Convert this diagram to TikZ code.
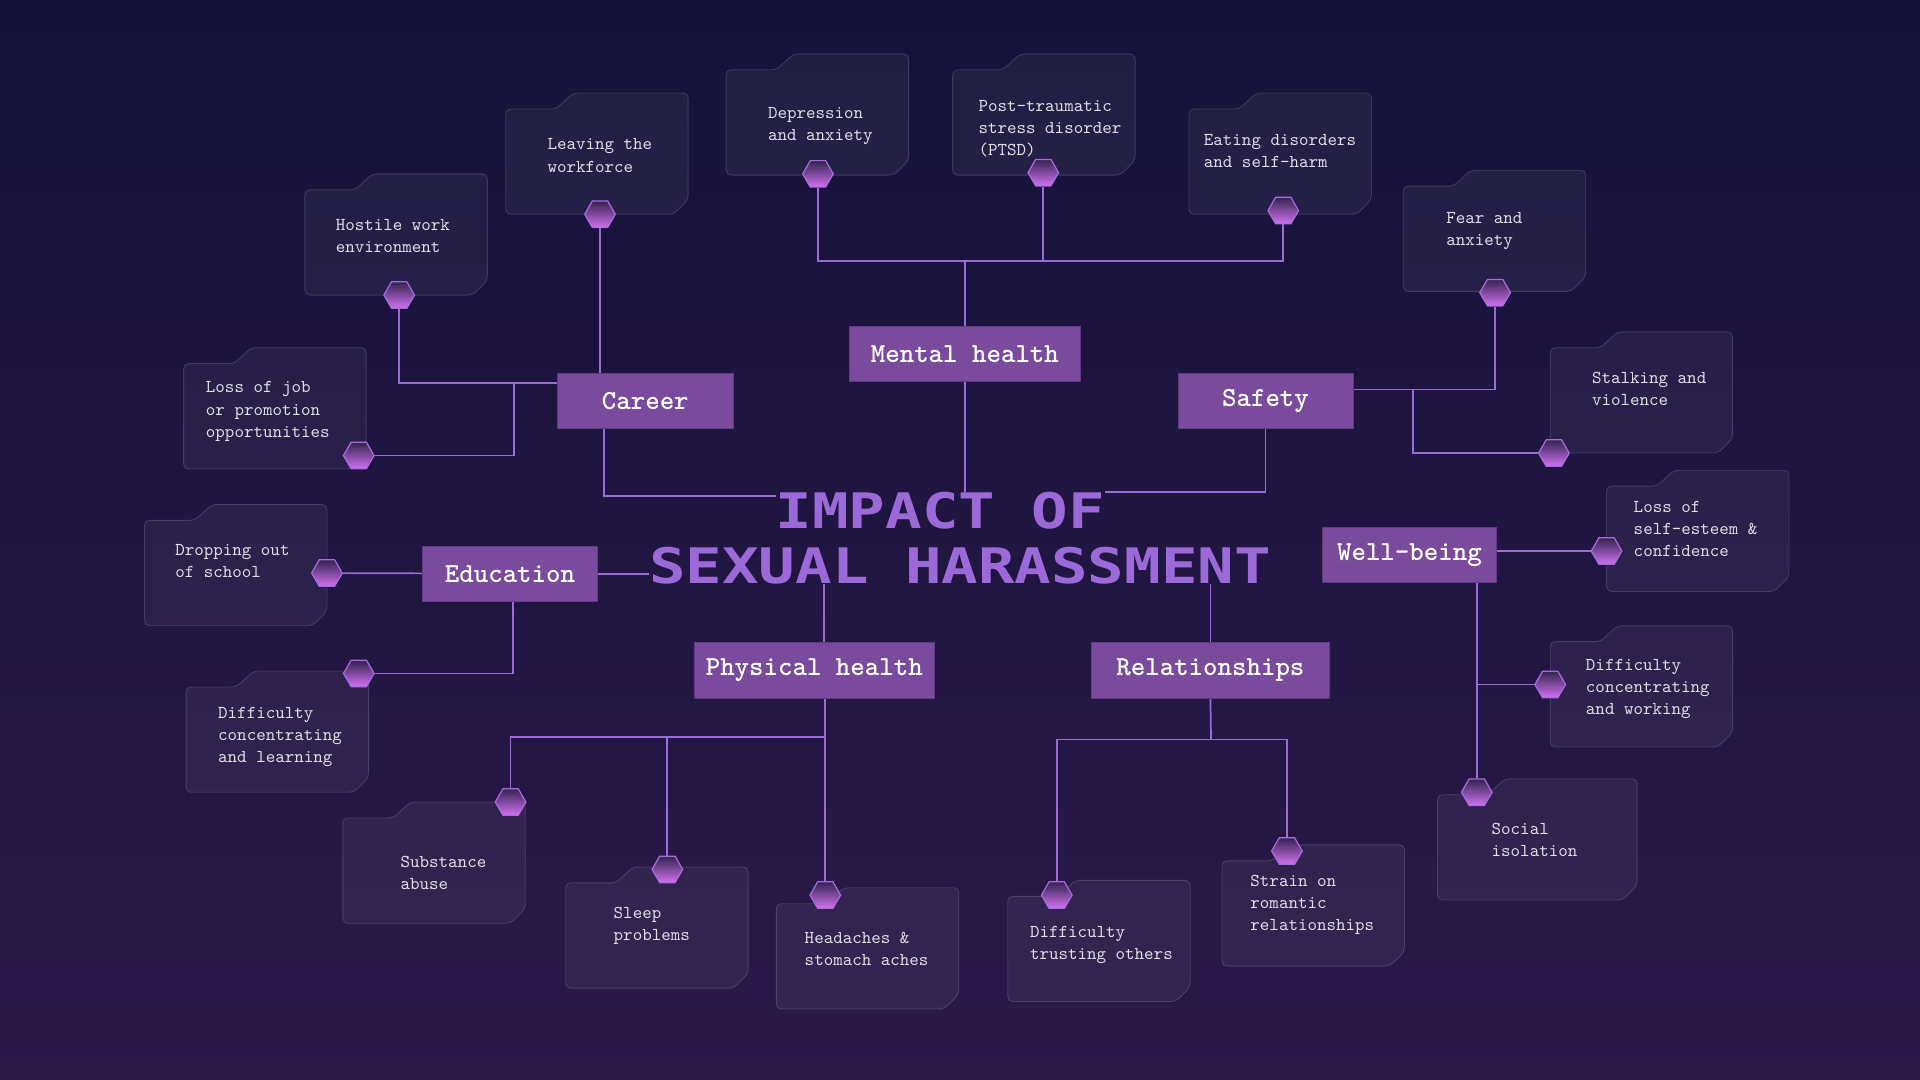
\documentclass[tikz,border=0pt]{standalone}
\usepackage{fontspec}
\newfontfamily\cardfam{lmmono10-regular.otf}
\newfontfamily\catfam{lmmonolt10-bold.otf}
\newfontfamily\titlefam{DejaVu Sans Mono}
\usetikzlibrary{shapes.geometric,positioning}
\usepackage{xcolor}
\definecolor{bgtop}{HTML}{15123A}
\definecolor{bgmid}{HTML}{140E29}
\definecolor{bgbot}{HTML}{2B1948}
\definecolor{boxpurple}{HTML}{7A4B9C}
\definecolor{boxedge}{HTML}{5E3A82}
\definecolor{linkpurple}{HTML}{9A6CD6}
\definecolor{titlepurple}{HTML}{9C6AD8}
\definecolor{cardink}{HTML}{E2DEEA}
\definecolor{hexdark}{HTML}{33244F}
\definecolor{hexlight}{HTML}{D272F0}
\definecolor{hexedge}{HTML}{A86AE0}
\pgfdeclarelayer{back}
\pgfdeclarelayer{cards}
\pgfdeclarelayer{lines}
\pgfsetlayers{back,cards,lines,main}
\newcommand{\card}[7][149] {
    \begin{pgfonlayer}{cards}
    \draw[cardbox,shift={(#3,#4)}] (0,13) -- (41,13) -- (55,0) -- (#1,0)
        -- (#1,87) -- (#1-12,99) -- (0,99) -- cycle;
    \end{pgfonlayer}
    \node[cardtext] (#2) at (#5,#6) {#7};
}
\newcommand{\hexdot}[3] {
    \node[hexdot] (#1) at (#2,#3) {};
}

\begin{document}
\begin{tikzpicture}[x=1pt,y=-1pt]
    \tikzset{
        cardbox/.style={rounded corners=4pt,fill=white,fill opacity=0.05,
            draw=white,draw opacity=0.15,line width=0.7pt},
        cardtext/.style={anchor=west,align=left,inner sep=0pt,text=cardink,
            font=\fontsize{14.8}{18}\selectfont\cardfam},
        catbox/.style={fill=boxpurple,draw=boxedge,line width=0.6pt,text=white,
            minimum height=45pt,inner sep=0pt,
            font=\fontsize{22.5}{24}\selectfont\catfam},
        hexdot/.style={regular polygon,regular polygon sides=6,minimum size=25pt,
            inner sep=0pt,draw=hexedge,line width=1pt,
            top color=hexdark,bottom color=hexlight},
        link/.style={draw=linkpurple,line width=1.4pt},
        headline/.style={inner sep=0pt,text=titlepurple,xscale=1.24,transform shape,
            font=\fontsize{40}{44}\selectfont\titlefam\bfseries}
    }
    \useasboundingbox (0,0) rectangle (1568,882);
    \begin{pgfonlayer}{back}
        \shade[top color=bgtop,middle color=bgmid,bottom color=bgbot]
            (0,0) rectangle (1568,882);
    \end{pgfonlayer}
    % title
    \node[headline] (title1) at (768,417) {IMPACT OF};
    \node[headline] (title2) at (784,462) {SEXUAL HARASSMENT};
    % categories
    \node[catbox,minimum width=188pt] (mental) at (788,289) {Mental health};
    \node[catbox,minimum width=143pt] (career) at (527,327.5) {Career};
    \node[catbox,minimum width=143pt] (safety) at (1033.5,327.5) {Safety};
    \node[catbox,minimum width=143pt] (educ) at (416.5,468.5) {Education};
    \node[catbox,minimum width=142pt] (well) at (1151,453.5) {Well-being};
    \node[catbox,minimum width=196pt] (phys) at (665,547.5) {Physical health};
    \node[catbox,minimum width=195pt] (rel) at (988.5,547.5) {Relationships};
    % cards
    \card{hostile}{249}{142}{274}{193}{Hostile work\\environment}
    \card{leave}{413}{76}{447}{127}{Leaving the\\workforce}
    \card{dep}{593}{44}{627}{103}{Depression\\and anxiety}
    \card{ptsd}{778}{44}{799}{105}{Post-traumatic\\stress disorder\\(PTSD)}
    \card{eat}{971}{76}{983}{123}{Eating disorders\\and self-harm}
    \card{fear}{1146}{139}{1181}{189}{Fear and\\anxiety}
    \card{stalk}{1266}{271}{1300}{318}{Stalking and\\violence}
    \card{self}{1312}{384}{1334}{432}{Loss of\\self-esteem \&\\confidence}
    \card{work}{1266}{511}{1295}{563}{Difficulty\\concentrating\\and working}
    \card[163]{social}{1174}{636}{1218}{686}{Social\\isolation}
    \card{strain}{998}{690}{1021}{739}{Strain on\\romantic\\relationships}
    \card{trust}{823}{719}{841}{772}{Difficulty\\trusting others}
    \card{head}{634}{725}{657}{775}{Headaches \&\\stomach aches}
    \card{sleep}{462}{708}{501}{756}{Sleep\\problems}
    \card{subst}{280}{655}{327}{713}{Substance\\abuse}
    \card{learn}{152}{548}{178}{602}{Difficulty\\concentrating\\and learning}
    \card{drop}{118}{412}{143}{458}{Dropping out\\of school}
    \card{job}{150}{284}{168}{336}{Loss of job\\or promotion\\opportunities}
    % hexagons
    \hexdot{hhost}{326}{241}
    \hexdot{hleave}{490}{175}
    \hexdot{hdep}{668}{142}
    \hexdot{hptsd}{852}{141}
    \hexdot{heat}{1048}{172}
    \hexdot{hfear}{1221}{239}
    \hexdot{hstalk}{1269}{370}
    \hexdot{hself}{1312}{450}
    \hexdot{hwork}{1266}{559}
    \hexdot{hsocial}{1206}{647}
    \hexdot{hstrain}{1051}{695}
    \hexdot{htrust}{863}{731}
    \hexdot{hhead}{674}{731}
    \hexdot{hsleep}{545}{710}
    \hexdot{hsubst}{417}{655}
    \hexdot{hlearn}{293}{550}
    \hexdot{hdrop}{267}{468}
    \hexdot{hjob}{293}{372}
    % connectors
    \begin{pgfonlayer}{lines}
        \coordinate (mj) at (788,213);
        \coordinate (cj) at (420,313);
        \coordinate (sj) at (1154,318);
        \coordinate (pj) at (674,602);
        \coordinate (rj) at (989,604);
        \draw[link] (mental) -- (mj);
        \draw[link] (hdep) |- (mj) -| (heat);
        \draw[link] (hptsd) -- (hptsd |- mj);
        \draw[link] (mental) -- (mental |- title1.north);
        \draw[link] (hleave) -- (hleave |- career.north);
        \draw[link] (hhost) |- (cj) -- (cj -| career.west);
        \draw[link] (cj) |- (hjob);
        \draw[link] ([xshift=-34pt]career.south) |- ([yshift=12pt]title1.west);
        \draw[link] (safety.east |- sj) -| (hfear);
        \draw[link] (sj) |- (hstalk);
        \draw[link] (safety.south) |- ([yshift=15pt]title1.east);
        \draw[link] (educ) -- (hdrop);
        \draw[link] (educ.east) -- (educ.east -| title2.west);
        \draw[link] ([xshift=2.5pt]educ.south) |- (hlearn);
        \draw[link] (well.east |- hself) -- (hself);
        \draw[link] (hsocial |- well.south) -- (hsocial);
        \draw[link] (hwork) -- (hwork -| hsocial);
        \draw[link] ([xshift=8pt]phys.north) -- ([xshift=8pt]phys.north |- title2.south);
        \draw[link] (hhead |- phys.south) -- (hhead);
        \draw[link] (hsubst) |- (pj);
        \draw[link] (hsleep) -- (hsleep |- pj);
        \draw[link] (rel.north) -- (rel.north |- title2.south);
        \draw[link] (rel.south) -- (rj);
        \draw[link] (htrust) |- (rj) -| (hstrain);
    \end{pgfonlayer}
\end{tikzpicture}
\end{document}
